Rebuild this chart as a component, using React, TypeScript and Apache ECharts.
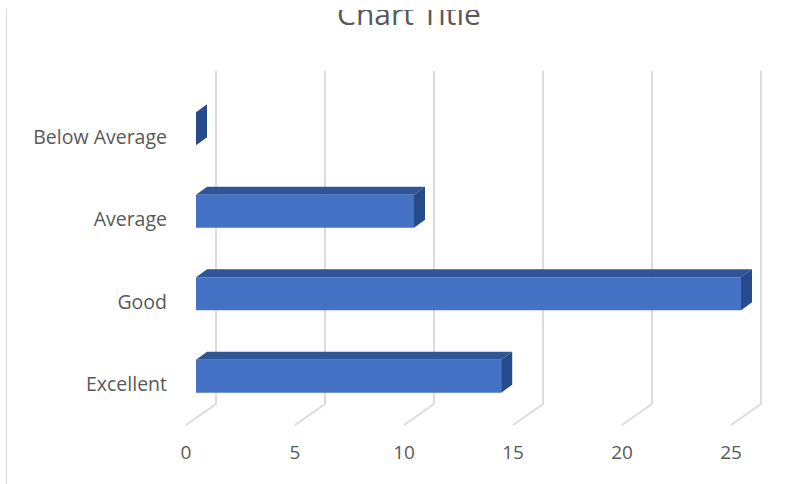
import React, { useEffect, useRef } from "react";
import * as echarts from "echarts";

const titleText = "Chart Title";
const categories = ["Excellent", "Good", "Average", "Below Average"];
const values = [14, 25, 10, 0];
const ticks = [0, 5, 10, 15, 20, 25];

const FONT = "'Open Sans', sans-serif";
const LABEL = "#595959";

export default function App() {
  const ref = useRef<HTMLDivElement>(null);
  useEffect(() => {
    document.body.style.margin = "0";
    const chart = echarts.init(ref.current!, undefined, { renderer: "svg" });
    chart.setOption({
      animation: false,
      backgroundColor: "#ffffff",
      title: {
        text: titleText,
        left: 404,
        top: -7,
        textAlign: "center",
        textStyle: { fontFamily: FONT, fontSize: 30, fontWeight: "normal", color: LABEL },
      },
      grid: { left: 186, right: 73, top: 95, bottom: 59 },
      xAxis: {
        type: "value",
        min: 0,
        max: 25,
        interval: 5,
        splitLine: { show: false },
        axisLine: { show: false },
        axisTick: { show: false },
        axisLabel: { margin: 17, fontFamily: FONT, fontSize: 19, color: LABEL },
      },
      yAxis: {
        type: "category",
        data: categories,
        axisLine: { show: false },
        axisTick: { show: false },
        axisLabel: { margin: 19, fontFamily: FONT, fontSize: 19.5, color: LABEL },
      },
      series: [
        {
          type: "custom",
          clip: false,
          silent: true,
          z: 1,
          data: ticks.map((t) => [t]),
          encode: { x: 0 },
          renderItem: (params: any, api: any) => {
            const x = api.coord([api.value(0), 0])[0];
            const bottom = params.coordSys.y + params.coordSys.height;
            return {
              type: "polyline",
              shape: { points: [[x, bottom], [x + 30, bottom - 21], [x + 30, 71]] },
              style: { fill: "none", stroke: "#dcdcdc", lineWidth: 2 },
            };
          },
        },
        {
          type: "custom",
          clip: false,
          silent: true,
          z: 2,
          data: values.map((v, i) => [v, i]),
          encode: { x: 0, y: 1 },
          renderItem: (_params: any, api: any) => {
            const end = api.coord([api.value(0), api.value(1)]);
            const start = api.coord([0, api.value(1)]);
            const x0 = start[0] + 10;
            const x1 = end[0] + 10;
            const yc = end[1] - 7.5;
            const h = 16.5;
            const dx = 11;
            const dy = 8;
            const children: any[] = [];
            if (x1 > x0) {
              children.push({
                type: "polygon",
                shape: { points: [[x0, yc - h], [x0 + dx, yc - h - dy], [x1 + dx, yc - h - dy], [x1, yc - h]] },
                style: { fill: "#2F5597" },
              });
              children.push({
                type: "rect",
                shape: { x: x0, y: yc - h, width: x1 - x0, height: 2 * h },
                style: { fill: "#4472C4" },
              });
            }
            children.push({
              type: "polygon",
              shape: { points: [[x1, yc - h], [x1 + dx, yc - h - dy], [x1 + dx, yc + h - dy], [x1, yc + h]] },
              style: { fill: "#264A8A" },
            });
            return { type: "group", children };
          },
        },
      ],
      graphic: [
        {
          type: "rect",
          z: 100,
          shape: { x: 0, y: 0, width: 804, height: 10 },
          style: { fill: "#ffffff" },
        },
        {
          type: "line",
          z: 101,
          shape: { x1: 6.5, y1: 9, x2: 6.5, y2: 484 },
          style: { stroke: "#d9d9d9", lineWidth: 1 },
        },
      ],
    });
    return () => chart.dispose();
  }, []);
  return <div ref={ref} style={{ width: 804, height: 484 }} />;
}
